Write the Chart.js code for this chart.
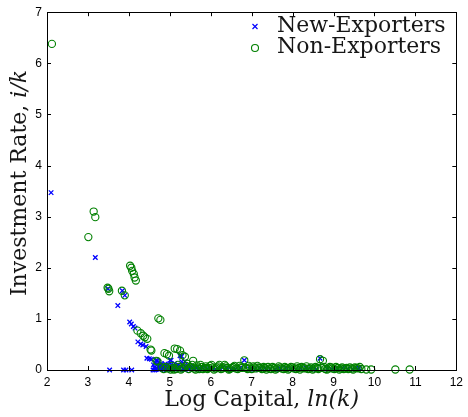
<!DOCTYPE html>
<html>
<head>
<meta charset="utf-8">
<script src="https://cdn.jsdelivr.net/npm/chart.js@4.4.1/dist/chart.umd.min.js"></script>
<style>
  html, body { margin: 0; padding: 0; background: #fff; }
  canvas { display: block; }
</style>
</head>
<body>
<canvas id="c" width="468" height="417"></canvas>
<script>
// Log capital (x) and investment rate (y) for firms that start exporting
const newExpX = [2.10, 3.18, 3.49, 3.53, 3.73, 3.84, 3.87, 3.90, 3.93, 4.02, 4.06, 4.07, 4.11, 4.15,
  4.22, 4.29, 4.34, 4.42, 4.44, 4.50, 4.55, 4.59, 4.63, 4.66, 4.67, 4.69, 4.72, 4.74, 4.76, 4.78, 4.80,
  4.82, 4.84, 4.86, 4.88, 4.90, 4.92, 4.94, 4.96, 4.99, 5.01, 5.03, 5.06, 5.08, 5.10, 5.14, 5.18, 5.22,
  5.25, 5.29, 5.29, 5.33, 5.37, 5.42, 5.46, 5.51, 5.58, 5.65, 5.75, 5.90, 6.05, 6.20, 6.40, 6.60,
  6.82, 6.95, 7.20, 7.45, 7.70, 7.95, 8.20, 8.45, 8.67, 8.85, 9.10, 9.35, 9.60, 9.62,
  4.60, 4.62, 4.64, 4.68, 4.70, 4.73, 4.75, 4.77, 4.79, 4.81, 4.83, 4.85, 4.87, 4.89, 4.91, 4.93,
  4.95, 4.97, 5.00, 5.04, 5.07, 5.12, 5.16, 5.20, 5.23, 5.27, 5.31, 5.35, 5.39, 5.44, 5.48, 5.54,
  5.62, 5.70, 5.80, 5.98, 6.12, 6.30, 6.50, 6.72, 7.08, 7.33, 7.58, 7.83, 8.08, 8.33, 8.58, 8.97,
  9.22, 9.48];
const newExpY = [3.47, 2.20, 1.59, 0.00, 1.26, 1.55, 0.00, 1.46, 0.00, 0.94, 0.90, 0.00, 0.85, 0.82,
  0.55, 0.51, 0.49, 0.46, 0.23, 0.22, 0.21, 0.00, 0.00, 0.03, 0.19, 0.17, 0.08, 0.01, 0.05, 0.02, 0.10,
  0.04, 0.03, 0.01, 0.07, 0.03, 0.02, 0.06, 0.05, 0.01, 0.19, 0.19, 0.04, 0.01, 0.08, 0.02, 0.06, 0.03,
  0.28, 0.27, 0.16, 0.03, 0.16, 0.05, 0.02, 0.08, 0.02, 0.04, 0.03, 0.02, 0.03, 0.02, 0.03, 0.02,
  0.19, 0.02, 0.03, 0.02, 0.03, 0.02, 0.03, 0.02, 0.23, 0.02, 0.03, 0.02, 0.02, 0.04,
  0.10, 0.05, 0.14, 0.02, 0.11, 0.15, 0.03, 0.09, 0.13, 0.06, 0.01, 0.09, 0.04, 0.12, 0.05, 0.09,
  0.01, 0.11, 0.04, 0.11, 0.07, 0.13, 0.03, 0.10, 0.01, 0.07, 0.10, 0.01, 0.07, 0.10, 0.02, 0.05,
  0.06, 0.01, 0.05, 0.04, 0.01, 0.05, 0.01, 0.04, 0.01, 0.04, 0.01, 0.04, 0.01, 0.04, 0.01, 0.01,
  0.04, 0.01];

// Log capital (x) and investment rate (y) for firms that do not export
const nonExpX = [2.12, 3.01, 3.14, 3.18, 3.48, 3.50, 3.52, 3.83, 3.90, 4.03, 4.06, 4.08, 4.12, 4.14,
  4.17, 4.21, 4.29, 4.35, 4.39, 4.45, 4.53, 4.55, 4.67, 4.70, 4.72, 4.77, 4.80, 4.87, 4.93, 4.95, 4.98,
  5.02, 5.08, 5.12, 5.15, 5.18, 5.22, 5.25, 5.30, 5.31, 5.37, 5.40, 5.46, 5.52, 5.55, 5.57, 5.60, 5.66,
  5.72, 5.78, 5.85, 5.92, 5.98, 6.05, 6.12, 6.18, 6.25, 6.30, 6.34, 6.40, 6.47, 6.55, 6.62, 6.70, 6.76,
  6.82, 6.90, 6.96, 7.04, 7.10, 7.18, 7.25, 7.32, 7.40, 7.47, 7.55, 7.62, 7.70, 7.78, 7.85, 7.92, 8.00,
  8.08, 8.15, 8.22, 8.30, 8.38, 8.45, 8.52, 8.60, 8.67, 8.74, 8.80, 8.88, 8.95, 9.02, 9.10, 9.18, 9.25,
  9.32, 9.36, 9.45, 9.52, 9.60, 9.80, 9.92, 10.51, 10.86,
  4.85, 4.90, 5.05, 5.10, 5.20, 5.27, 5.34, 5.43, 5.49, 5.63, 5.69, 5.75, 5.81, 5.88, 5.95, 6.02,
  6.08, 6.15, 6.21, 6.28, 6.37, 6.44, 6.51, 6.58, 6.66, 6.73, 6.86, 6.93, 7.00, 7.07, 7.14, 7.21,
  7.29, 7.36, 7.44, 7.51, 7.58, 7.66, 7.74, 7.81, 7.89, 7.96, 8.04, 8.11, 8.18, 8.26, 8.34, 8.41,
  8.49, 8.56, 8.63, 8.70, 8.77, 8.84, 8.91, 8.98, 9.06, 9.14, 9.21, 9.28, 9.40, 9.48, 9.56, 9.64,
  9.68];
const nonExpY = [6.38, 2.60, 3.10, 2.99, 1.61, 1.59, 1.54, 1.55, 1.46, 2.04, 2.00, 1.94, 1.88, 1.81,
  1.75, 0.77, 0.72, 0.67, 0.64, 0.61, 0.40, 0.38, 0.18, 0.17, 1.01, 0.98, 0.05, 0.33, 0.31, 0.03, 0.28,
  0.01, 0.04, 0.42, 0.02, 0.41, 0.06, 0.38, 0.03, 0.29, 0.26, 0.08, 0.02, 0.05, 0.10, 0.18, 0.03, 0.09,
  0.02, 0.06, 0.04, 0.02, 0.08, 0.05, 0.03, 0.07, 0.02, 0.05, 0.10, 0.04, 0.02, 0.06, 0.03, 0.08, 0.04,
  0.19, 0.02, 0.05, 0.07, 0.03, 0.05, 0.02, 0.04, 0.06, 0.02, 0.04, 0.03, 0.05, 0.02, 0.04, 0.03, 0.05,
  0.02, 0.04, 0.06, 0.03, 0.02, 0.05, 0.03, 0.04, 0.21, 0.18, 0.02, 0.03, 0.05, 0.02, 0.04, 0.03, 0.02,
  0.04, 0.02, 0.03, 0.05, 0.03, 0.01, 0.01, 0.01, 0.01,
  0.02, 0.06, 0.08, 0.01, 0.10, 0.01, 0.05, 0.12, 0.06, 0.01, 0.05, 0.10, 0.02, 0.07, 0.04, 0.10,
  0.01, 0.05, 0.10, 0.03, 0.07, 0.01, 0.04, 0.08, 0.02, 0.05, 0.04, 0.08, 0.02, 0.05, 0.08, 0.04,
  0.06, 0.01, 0.03, 0.06, 0.01, 0.07, 0.03, 0.06, 0.01, 0.06, 0.03, 0.07, 0.01, 0.04, 0.07, 0.03,
  0.01, 0.06, 0.02, 0.04, 0.06, 0.01, 0.06, 0.03, 0.06, 0.01, 0.05, 0.03, 0.05, 0.01, 0.04, 0.06,
  0.02];

const xTicks = [2, 3, 4, 5, 6, 7, 8, 9, 10, 11, 12];
const yTicks = [0, 1, 2, 3, 4, 5, 6, 7];
const seriesNames = ['New-Exporters', 'Non-Exporters'];
const xTitle = ['Log Capital, ', 'ln(k)'];
const yTitle = ['Investment Rate, ', 'i/k'];

const BLUE = '#0000ff';
const GREEN = '#008000';
const INK = '#161616';
const SERIF = '"DejaVu Serif", serif';
const SANS = '"Liberation Sans", Arial, sans-serif';

const toPoints = (xs, ys) => xs.map((x, i) => ({ x: x, y: ys[i] }));

// Box around the axes with inward tick marks on all four sides
const boxPlugin = {
  id: 'box',
  afterDraw(chart) {
    const { ctx, chartArea: a, scales } = chart;
    ctx.save();
    ctx.strokeStyle = '#000';
    ctx.lineWidth = 1;
    ctx.strokeRect(Math.round(a.left) + 0.5, Math.round(a.top) + 0.5,
      Math.round(a.right - a.left), Math.round(a.bottom - a.top));
    const len = 4;
    ctx.beginPath();
    xTicks.forEach(v => {
      const px = Math.round(scales.x.getPixelForValue(v)) + 0.5;
      ctx.moveTo(px, a.bottom); ctx.lineTo(px, a.bottom - len);
      ctx.moveTo(px, a.top); ctx.lineTo(px, a.top + len);
    });
    yTicks.forEach(v => {
      const py = Math.round(scales.y.getPixelForValue(v)) + 0.5;
      ctx.moveTo(a.left, py); ctx.lineTo(a.left + len, py);
      ctx.moveTo(a.right, py); ctx.lineTo(a.right - len, py);
    });
    ctx.stroke();
    ctx.restore();
  }
};

// Axis titles with an italic math part, and the legend inside the axes
const labelPlugin = {
  id: 'labels',
  afterDraw(chart) {
    const { ctx, chartArea: a } = chart;
    ctx.save();
    ctx.fillStyle = INK;
    ctx.textBaseline = 'alphabetic';
    const up = '22px ' + SERIF, it = 'italic 22px ' + SERIF;

    // x title
    ctx.font = up; const w1 = ctx.measureText(xTitle[0]).width;
    ctx.font = it; const w2 = ctx.measureText(xTitle[1]).width;
    let x0 = (a.left + a.right) / 2 + 10 - (w1 + w2) / 2;
    ctx.textAlign = 'left';
    ctx.font = up; ctx.fillText(xTitle[0], x0, 406);
    ctx.font = it; ctx.fillText(xTitle[1], x0 + w1, 406);

    // y title
    ctx.font = up; const h1 = ctx.measureText(yTitle[0]).width;
    ctx.font = it; const h2 = ctx.measureText(yTitle[1]).width;
    ctx.save();
    ctx.translate(26, 183);
    ctx.rotate(-Math.PI / 2);
    const s0 = -(h1 + h2) / 2;
    ctx.font = up; ctx.fillText(yTitle[0], s0, 0);
    ctx.font = it; ctx.fillText(yTitle[1], s0 + h1, 0);
    ctx.restore();

    // legend
    ctx.font = up;
    ctx.fillText(seriesNames[0], 277, 32);
    ctx.fillText(seriesNames[1], 277, 53);
    ctx.strokeStyle = BLUE; ctx.lineWidth = 1.2;
    ctx.beginPath();
    ctx.moveTo(252.5, 24); ctx.lineTo(257.5, 29);
    ctx.moveTo(257.5, 24); ctx.lineTo(252.5, 29);
    ctx.stroke();
    ctx.strokeStyle = GREEN; ctx.lineWidth = 1.1;
    ctx.beginPath();
    ctx.arc(255, 48, 3.5, 0, Math.PI * 2);
    ctx.stroke();
    ctx.restore();
  }
};

new Chart(document.getElementById('c'), {
  type: 'scatter',
  data: {
    datasets: [
      {
        label: seriesNames[1],
        data: toPoints(nonExpX, nonExpY),
        pointStyle: 'circle',
        radius: 3.6,
        borderColor: GREEN,
        backgroundColor: 'rgba(0,0,0,0)',
        borderWidth: 1.1,
        clip: false
      },
      {
        label: seriesNames[0],
        data: toPoints(newExpX, newExpY),
        pointStyle: 'crossRot',
        radius: 3.2,
        borderColor: BLUE,
        backgroundColor: BLUE,
        borderWidth: 1.3,
        clip: false
      }
    ]
  },
  options: {
    responsive: false,
    animation: false,
    devicePixelRatio: 1,
    layout: { padding: { top: 7, right: 7, left: 0, bottom: 0 } },
    plugins: { legend: { display: false }, tooltip: { enabled: false } },
    scales: {
      x: {
        type: 'linear', min: 2, max: 12,
        afterFit(s) { s.height = 47; },
        afterBuildTicks(s) { s.ticks = xTicks.map(v => ({ value: v })); },
        grid: { display: false, drawTicks: false },
        border: { display: false },
        ticks: { font: { family: SANS, size: 12 }, color: '#000', padding: 5, maxRotation: 0 }
      },
      y: {
        type: 'linear', min: 0, max: 7,
        afterFit(s) { s.width = 47; },
        afterBuildTicks(s) { s.ticks = yTicks.map(v => ({ value: v })); },
        grid: { display: false, drawTicks: false },
        border: { display: false },
        ticks: { font: { family: SANS, size: 12 }, color: '#000', padding: 5 }
      }
    }
  },
  plugins: [boxPlugin, labelPlugin]
});
</script>
</body>
</html>
